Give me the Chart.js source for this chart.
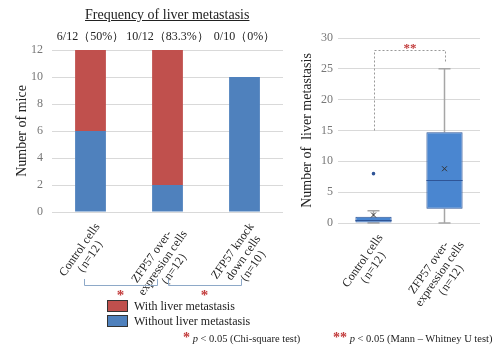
<!DOCTYPE html>
<html><head><meta charset="utf-8">
<script src="https://cdn.jsdelivr.net/npm/chart.js@4.4.1/dist/chart.umd.min.js"></script>
<style>
html,body{margin:0;padding:0;background:#fff;}
#wrap{position:relative;width:493px;height:347px;overflow:hidden;font-family:"Liberation Serif","Times New Roman",serif;color:#222;}
canvas{position:absolute;top:0;}
.t{position:absolute;white-space:nowrap;line-height:1;}
.box{position:absolute;width:21px;height:12px;border:1px solid #333;box-sizing:border-box;}
.star{color:#C23B3B;font-weight:bold;}
</style></head><body>
<div id="wrap">
<canvas id="c1" width="290" height="347" style="left:0"></canvas>
<canvas id="c2" width="203" height="347" style="left:290px"></canvas>
<div class="t" style="left:85px;top:8px;font-size:14px;text-decoration:underline;">Frequency of liver metastasis</div>
<div class="box" style="left:107px;top:300px;background:#C0504D"></div>
<div class="box" style="left:107px;top:315px;background:#4F81BD"></div>
<div class="t" style="left:134px;top:300px;font-size:12px;">With liver metastasis</div>
<div class="t" style="left:134px;top:315px;font-size:12px;">Without liver metastasis</div>
<div class="t" style="left:183px;top:331px;font-size:10.5px;"><span class="star" style="font-size:14px">*</span> <i>p</i> &lt; 0.05 (Chi-square test)</div>
<div class="t" style="left:333px;top:331px;font-size:10.5px;"><span class="star" style="font-size:14px">**</span> <i>p</i> &lt; 0.05 (Mann – Whitney U test)</div>
</div>
<script>
// ---------- data: left chart ----------
const categories1 = [
  ["Control cells", "（n=12）\u00a0\u00a0"],
  ["ZFP57 over-\u00a0\u00a0\u00a0", "expression cells", "（n=12）\u00a0\u00a0\u00a0\u00a0"],
  ["ZFP57 knock", "down cells\u00a0\u00a0", "（n=10）\u00a0\u00a0\u00a0"]
];
const withMetastasis = [6, 10, 0];
const withoutMetastasis = [6, 2, 10];
const rateLabels = ["6/12（50%）", "10/12（83.3%）", "0/10（0%）"];
const yMin1 = 0, yMax1 = 12, yStep1 = 2;
const chiBrackets = [[-0.09, 0.87], [1.0, 1.96]];
// ---------- data: right chart (box plot) ----------
const categories2 = [
  ["Control cells", "（n=12）\u00a0\u00a0"],
  ["ZFP57 over-\u00a0\u00a0\u00a0", "expression cells", "（n=12）\u00a0\u00a0\u00a0\u00a0"]
];
const boxQ1 = [0, 2.3];
const boxQ3 = [1, 14.7];
const boxMedian = [0.5, 7];
const boxMean = [1.3, 8.8];
const whiskerMin = [0, 0];
const whiskerMax = [2, 25];
const outlierValues = [8, null];
const yMin2 = 0, yMax2 = 30, yStep2 = 5;
const sigBracket = {from: 0, to: 1, leftStart: 15, top: 28, rightEnd: 26, label: "**"};

const SERIF = '"Liberation Serif","Times New Roman",serif';
Chart.defaults.font.family = SERIF;

const p1 = {id:'p1', afterDraw(chart){
  const {ctx, scales:{x}, chartArea} = chart;
  ctx.save();
  ctx.font = '12px ' + SERIF; ctx.fillStyle = '#222';
  ctx.textAlign = 'center'; ctx.textBaseline = 'middle';
  rateLabels.forEach((t,i)=>ctx.fillText(t, x.getPixelForValue(i), chartArea.top - 13));
  ctx.strokeStyle = '#8EA9C8'; ctx.lineWidth = 1;
  chiBrackets.forEach(([a,b])=>{
    const xa = Math.round(x.getPixelForValue(a))+0.5, xb = Math.round(x.getPixelForValue(b))+0.5;
    ctx.beginPath(); ctx.moveTo(xa,279); ctx.lineTo(xa,285.5); ctx.lineTo(xb,285.5); ctx.lineTo(xb,279); ctx.stroke();
    ctx.fillStyle = '#C23B3B'; ctx.font = 'bold 15px ' + SERIF;
    ctx.fillText('*', (x.getPixelForValue(a)+x.getPixelForValue(b))/2, 296);
  });
  ctx.restore();
}};

const xTickFont = {size:12, lineHeight:1.05};

new Chart(document.getElementById('c1'), {
  type:'bar',
  data:{labels:categories1, datasets:[
    {label:'Without liver metastasis', data:withoutMetastasis, backgroundColor:'#4F81BD', stack:'s'},
    {label:'With liver metastasis', data:withMetastasis, backgroundColor:'#C0504D', stack:'s'}
  ]},
  options:{
    responsive:false, devicePixelRatio:1, animation:false,
    layout:{padding:{top:50,left:0,right:7,bottom:0}},
    plugins:{legend:{display:false}, tooltip:{enabled:false}},
    datasets:{bar:{categoryPercentage:1, barPercentage:0.4}},
    scales:{
      x:{stacked:true, grid:{display:false}, border:{display:false},
         ticks:{autoSkip:false, minRotation:55, maxRotation:55, padding:1, labelOffset:7, color:'#222', font:xTickFont},
         afterFit(s){ s.height = 135; }},
      y:{stacked:true, min:yMin1, max:yMax1,
         ticks:{stepSize:yStep1, padding:9, color:'#777', font:{size:12}},
         grid:{color:'#d9d9d9', drawTicks:false}, border:{display:false},
         title:{display:true, text:'Number of mice', color:'#222', font:{size:14}, padding:{top:13.6,bottom:0}},
         afterFit(s){ s.width = 52; }}
    }
  },
  plugins:[p1]
});

const p2 = {id:'p2',
  beforeDatasetsDraw(chart){
    const {ctx, scales:{x,y}} = chart;
    ctx.save(); ctx.strokeStyle = '#A6A6A6'; ctx.lineWidth = 1.5;
    whiskerMax.forEach((mx,i)=>{
      const xc = x.getPixelForValue(i);
      const yt = y.getPixelForValue(mx), yq3 = y.getPixelForValue(boxQ3[i]);
      const yb = y.getPixelForValue(whiskerMin[i]), yq1 = y.getPixelForValue(boxQ1[i]);
      ctx.beginPath();
      ctx.moveTo(xc, yt); ctx.lineTo(xc, yq3);
      ctx.moveTo(xc, yq1); ctx.lineTo(xc, yb);
      ctx.moveTo(xc-6, yt); ctx.lineTo(xc+6, yt);
      ctx.moveTo(xc-6, yb); ctx.lineTo(xc+6, yb);
      ctx.stroke();
    });
    ctx.restore();
  },
  afterDatasetsDraw(chart){
    const {ctx, scales:{x,y}} = chart;
    const meta = chart.getDatasetMeta(0);
    ctx.save(); ctx.strokeStyle = '#2F5597'; ctx.lineWidth = 1;
    boxMedian.forEach((m,i)=>{
      const el = meta.data[i]; const ym = Math.round(y.getPixelForValue(m))+0.5;
      ctx.beginPath(); ctx.moveTo(el.x - el.width/2, ym); ctx.lineTo(el.x + el.width/2, ym); ctx.stroke();
    });
    ctx.restore();
  },
  afterDraw(chart){
    const {ctx, scales:{x,y}} = chart;
    const xa = Math.round(x.getPixelForValue(sigBracket.from))+0.5, xb = Math.round(x.getPixelForValue(sigBracket.to))+0.5;
    ctx.save(); ctx.strokeStyle = '#999'; ctx.lineWidth = 1; ctx.setLineDash([2,2]);
    ctx.beginPath();
    ctx.moveTo(xa, y.getPixelForValue(sigBracket.leftStart));
    ctx.lineTo(xa, Math.round(y.getPixelForValue(sigBracket.top))+0.5);
    ctx.lineTo(xb, Math.round(y.getPixelForValue(sigBracket.top))+0.5);
    ctx.lineTo(xb, y.getPixelForValue(sigBracket.rightEnd));
    ctx.stroke();
    ctx.setLineDash([]);
    ctx.fillStyle = '#C23B3B'; ctx.font = 'bold 13px ' + SERIF; ctx.textAlign = 'center'; ctx.textBaseline = 'middle';
    ctx.fillText(sigBracket.label, (xa+xb)/2, y.getPixelForValue(sigBracket.top) - 2);
    ctx.restore();
  }
};

new Chart(document.getElementById('c2'), {
  type:'bar',
  data:{labels:categories2, datasets:[
    {label:'box', data:boxQ1.map((q,i)=>[q, boxQ3[i]]), backgroundColor:'#4A86D0', borderColor:'#2F5597', borderWidth:1, borderSkipped:false, order:2},
    {type:'line', label:'mean', data:boxMean, showLine:false, pointStyle:'crossRot', pointRadius:3.5, borderColor:'#333', borderWidth:1, order:0},
    {type:'line', label:'outlier', data:outlierValues, showLine:false, pointStyle:'circle', pointRadius:1.8, backgroundColor:'#2F5597', borderColor:'#2F5597', borderWidth:0, order:0}
  ]},
  options:{
    responsive:false, devicePixelRatio:1, animation:false,
    layout:{padding:{top:38,left:0,right:13,bottom:0}},
    plugins:{legend:{display:false}, tooltip:{enabled:false}},
    datasets:{bar:{categoryPercentage:1, barPercentage:0.51}},
    scales:{
      x:{grid:{display:false}, border:{display:false},
         ticks:{autoSkip:false, minRotation:55, maxRotation:55, padding:1, labelOffset:7, color:'#222', font:xTickFont},
         afterFit(s){ s.height = 124; }},
      y:{min:yMin2, max:yMax2,
         ticks:{stepSize:yStep2, padding:5, color:'#777', font:{size:12}},
         grid:{color:'#d9d9d9', drawTicks:false}, border:{display:false},
         title:{display:true, text:'Number of  liver metastasis', color:'#222', font:{size:14}, padding:{top:8.6,bottom:0}},
         afterFit(s){ s.width = 48; }}
    }
  },
  plugins:[p2]
});
</script>
</body></html>
